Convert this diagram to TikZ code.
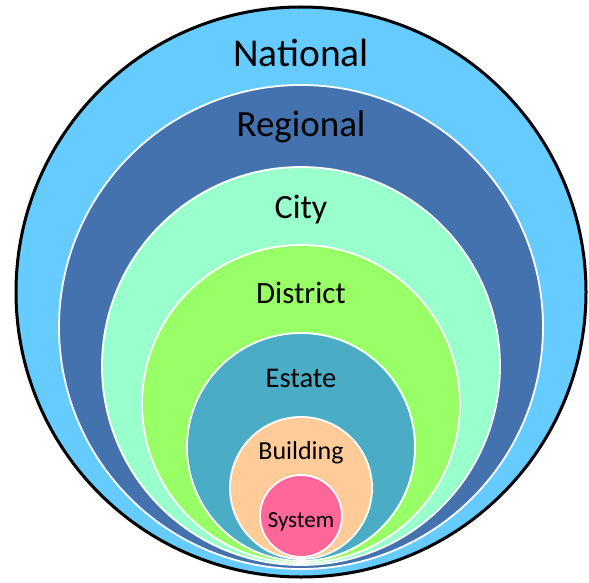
\documentclass[tikz,border=0pt]{standalone}
\usepackage{fontspec}
\setmainfont{Carlito}
\usepackage{xcolor}
\usepackage{tikz}
\usetikzlibrary{positioning}
\definecolor{nationalblue}{HTML}{66CCFF}
\definecolor{regionalblue}{HTML}{4472AE}
\definecolor{citymint}{HTML}{99FFCC}
\definecolor{districtgreen}{HTML}{99FF66}
\definecolor{estateteal}{HTML}{4BACC6}
\definecolor{buildingpeach}{HTML}{FFCC99}
\definecolor{systempink}{HTML}{FF6699}
\tikzset{
  ring/.style={circle, draw=white, line width=1.8pt, inner sep=0pt, outer sep=0pt},
  outerring/.style={ring, draw=black, line width=3pt},
  tag/.style={anchor=base, text=black, inner sep=0pt}
}

\begin{document}
\begin{tikzpicture}[x=1pt, y=-1pt]
  \useasboundingbox (0,0) rectangle (589,583);

  % nested scales, all touching near the bottom
  \node[outerring, fill=nationalblue, minimum size=570pt] (national) at (301,292) {};
  \node[ring, fill=regionalblue, minimum size=484pt] (regional) at (301,327) {};
  \node[ring, fill=citymint, minimum size=398pt] (city) at (301,366) {};
  \node[ring, fill=districtgreen, minimum size=318pt] (district) at (301,404) {};
  \node[ring, fill=estateteal, minimum size=228pt] (estate) at (301,447) {};
  \node[ring, fill=buildingpeach, minimum size=142pt] (building) at (301,488) {};
  \node[ring, fill=systempink, minimum size=82pt] (system) at (301,516) {};

  % labels
  \node[tag, font=\fontsize{39.5}{40}\selectfont, below=60pt of national.north, anchor=base] (nationaltxt) {National};
  \node[tag, font=\fontsize{37}{37}\selectfont, below=52pt of regional.north, anchor=base] (regionaltxt) {Regional};
  \node[tag, font=\fontsize{34}{34}\selectfont, below=51pt of city.north, anchor=base] (citytxt) {City};
  \node[tag, font=\fontsize{31}{31}\selectfont, below=58pt of district.north, anchor=base] (districttxt) {District};
  \node[tag, font=\fontsize{28.5}{28.5}\selectfont, below=54pt of estate.north, anchor=base] (estatetxt) {Estate};
  \node[tag, font=\fontsize{26}{26}\selectfont, below=42pt of building.north, anchor=base] (buildingtxt) {Building};
  \node[tag, font=\fontsize{23}{23}\selectfont, below=52pt of system.north, anchor=base] (systemtxt) {System};
\end{tikzpicture}
\end{document}
